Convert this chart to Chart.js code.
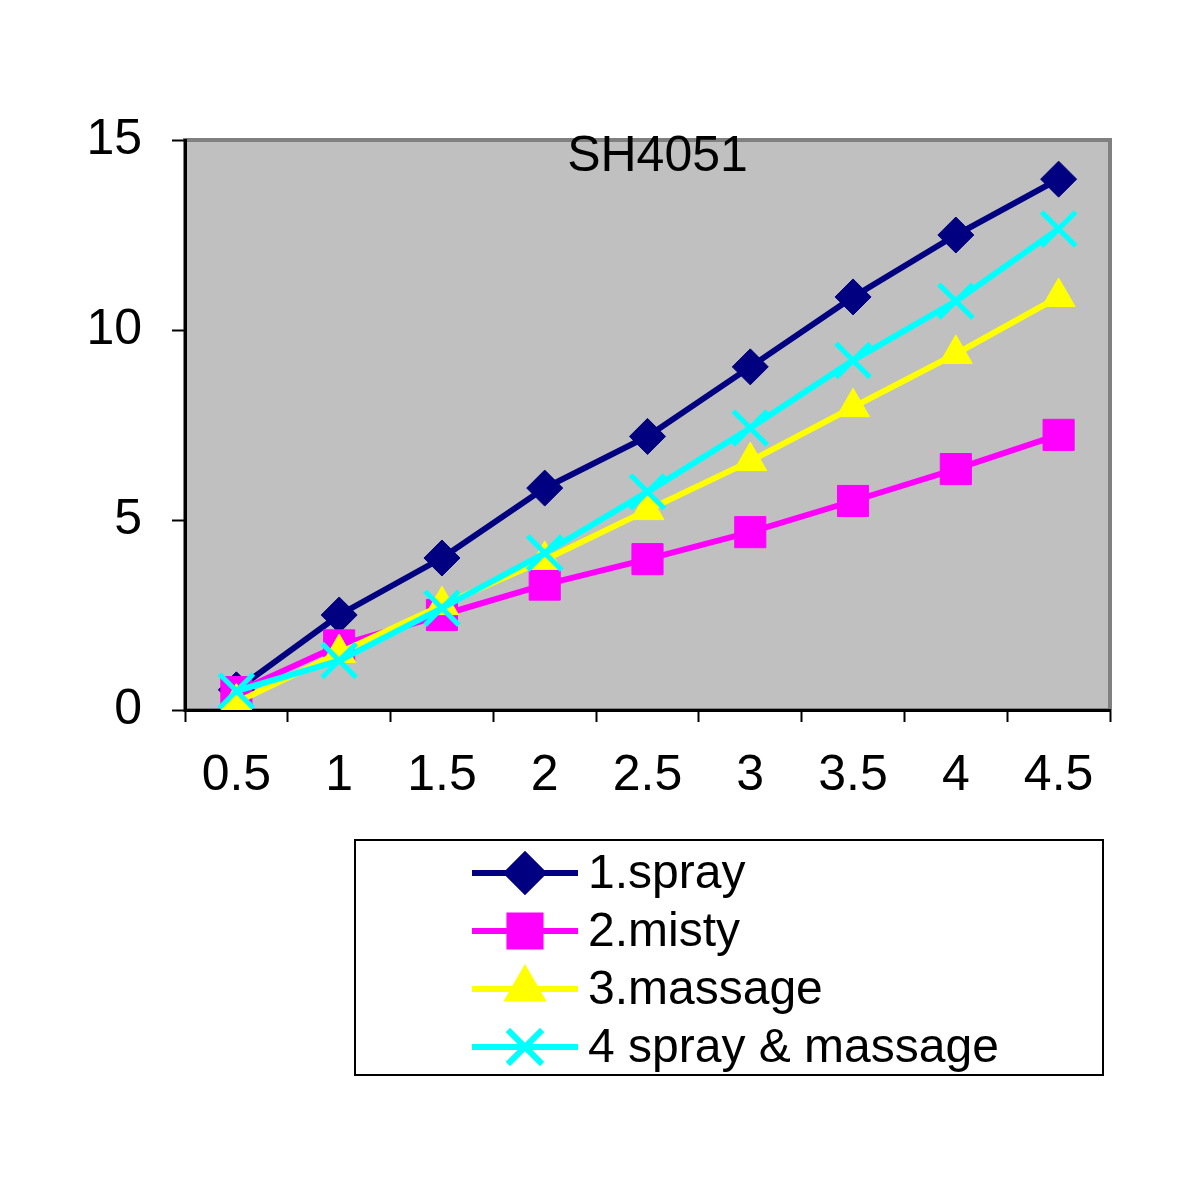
<!DOCTYPE html>
<html>
<head>
<meta charset="utf-8">
<title>SH4051</title>
<script src="https://cdn.jsdelivr.net/npm/chart.js@4/dist/chart.umd.min.js"></script>
<style>
  html, body { margin: 0; padding: 0; background: #fff; }
  #wrap { width: 1200px; height: 1200px; }
</style>
</head>
<body>
<div id="wrap"><canvas id="lineChart" width="1200" height="1200"></canvas></div>
<script>
// data
const categories = ["0.5", "1", "1.5", "2", "2.5", "3", "3.5", "4", "4.5"];
const sprayValues = [0.53, 2.5, 4.0, 5.84, 7.2, 9.03, 10.87, 12.5, 13.97];
const mistyValues = [0.47, 1.7, 2.5, 3.3, 3.97, 4.68, 5.5, 6.34, 7.24];
const massageValues = [0.2, 1.5, 2.76, 3.95, 5.26, 6.55, 7.97, 9.37, 10.87];
const sprayMassageValues = [0.5, 1.3, 2.68, 4.13, 5.74, 7.42, 9.2, 10.76, 12.66];
const seriesLabels = ["1.spray", "2.misty", "3.massage", "4 spray & massage"];
const yTicks = [0, 5, 10, 15];

const FONT = "'Liberation Sans', Arial, sans-serif";

// gray plot background, border and title inside the plot
const plotBackground = {
  id: "plotBackground",
  beforeDraw(chart) {
    const { ctx, chartArea: a } = chart;
    ctx.save();
    ctx.fillStyle = "#c0c0c0";
    ctx.fillRect(a.left, a.top, a.right - a.left, a.bottom - a.top);
    ctx.strokeStyle = "#808080";
    ctx.lineWidth = 4;
    ctx.strokeRect(a.left, a.top, a.right - a.left, a.bottom - a.top);
    ctx.restore();
  },
  beforeDatasetsDraw(chart) {
    const { ctx, chartArea: a } = chart;
    ctx.save();
    ctx.fillStyle = "#000";
    ctx.font = "50px " + FONT;
    ctx.textAlign = "center";
    ctx.textBaseline = "middle";
    ctx.fillText("SH4051", a.left + (a.right - a.left) / 2 + 10, a.top + 17);
    ctx.restore();
  }
};

// boxed legend below the chart, line + marker per series
const boxLegend = {
  id: "boxLegend",
  afterDraw(chart) {
    const { ctx } = chart;
    const box = { x: 355, y: 840, w: 748, h: 235 };
    ctx.save();
    ctx.fillStyle = "#fff";
    ctx.fillRect(box.x, box.y, box.w, box.h);
    ctx.strokeStyle = "#000";
    ctx.lineWidth = 2;
    ctx.strokeRect(box.x, box.y, box.w, box.h);
    chart.data.datasets.forEach((ds, i) => {
      const y = 873 + i * 58;
      ctx.strokeStyle = ds.borderColor;
      ctx.lineWidth = 6;
      ctx.beginPath();
      ctx.moveTo(472, y);
      ctx.lineTo(578, y);
      ctx.stroke();
      Chart.helpers.drawPoint(ctx, {
        pointStyle: ds.pointStyle,
        radius: ds.pointRadius,
        borderWidth: ds.pointBorderWidth
      }, 525, y);
      ctx.fillStyle = ds.borderColor;
      ctx.strokeStyle = ds.borderColor;
      ctx.lineWidth = ds.pointBorderWidth;
      ctx.fill();
      ctx.stroke();
      ctx.fillStyle = "#000";
      ctx.font = "48px " + FONT;
      ctx.textAlign = "left";
      ctx.textBaseline = "middle";
      ctx.fillText(ds.label, 588, y + 2);
    });
    ctx.restore();
  }
};

function series(label, data, color, style, radius, bw, order) {
  return {
    label: label,
    data: data,
    order: order,
    borderColor: color,
    backgroundColor: color,
    borderWidth: 6,
    pointStyle: style,
    pointRadius: radius,
    pointHoverRadius: radius,
    pointBorderWidth: bw,
    pointBackgroundColor: color,
    pointBorderColor: color,
    tension: 0,
    fill: false
  };
}

const ctx = document.getElementById("lineChart").getContext("2d");
new Chart(ctx, {
  type: "line",
  data: {
    labels: categories,
    datasets: [
      series(seriesLabels[0], sprayValues, "#000080", "rectRot", 18, 1, 4),
      series(seriesLabels[1], mistyValues, "#ff00ff", "rect", 22, 1, 3),
      series(seriesLabels[2], massageValues, "#ffff00", "triangle", 19, 1, 2),
      series(seriesLabels[3], sprayMassageValues, "#00ffff", "crossRot", 24, 5, 1)
    ]
  },
  options: {
    responsive: false,
    animation: false,
    devicePixelRatio: 1,
    layout: { padding: { left: 0, right: 90, top: 140, bottom: 0 } },
    plugins: {
      legend: { display: false },
      title: { display: false },
      tooltip: { enabled: false }
    },
    scales: {
      x: {
        type: "category",
        offset: true,
        afterFit(scale) { scale.height = 490; },
        grid: {
          offset: true,
          drawOnChartArea: false,
          drawTicks: true,
          tickLength: 12,
          tickColor: "#000",
          tickWidth: 2
        },
        border: { display: true, color: "#000", width: 3 },
        ticks: {
          color: "#000",
          font: { family: FONT, size: 50 },
          padding: 24,
          maxRotation: 0,
          autoSkip: false
        }
      },
      y: {
        min: 0,
        max: 15,
        afterFit(scale) { scale.width = 185; },
        afterBuildTicks(scale) { scale.ticks = yTicks.map(v => ({ value: v })); },
        grid: {
          drawOnChartArea: false,
          drawTicks: true,
          tickLength: 13,
          tickColor: "#000",
          tickWidth: 2
        },
        border: { display: true, color: "#000", width: 3 },
        ticks: {
          color: "#000",
          font: { family: FONT, size: 50 },
          padding: 30
        }
      }
    }
  },
  plugins: [plotBackground, boxLegend]
});
</script>
</body>
</html>
